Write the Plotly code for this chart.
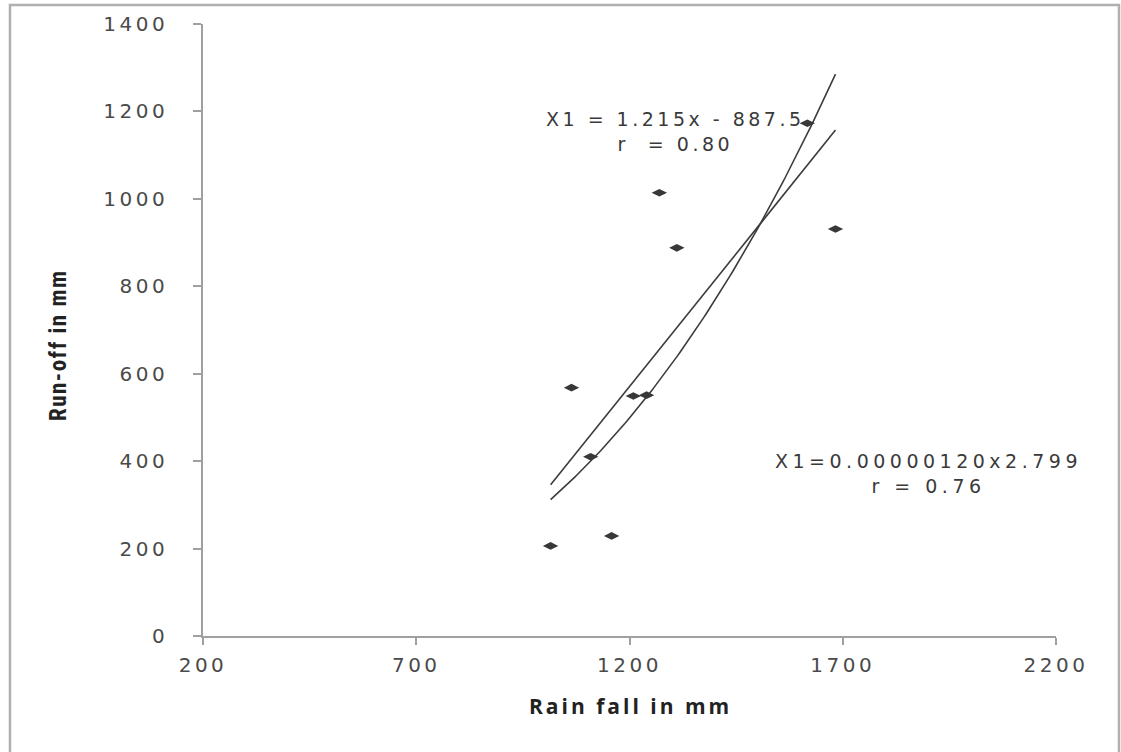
import plotly.graph_objects as go
import numpy as np

# ---- data ----
rain_mm = [1015, 1064, 1109, 1158, 1209, 1240, 1270, 1311, 1617, 1683]
runoff_mm = [206, 568, 410, 229, 549, 551, 1014, 888, 1173, 931]

# trendline coefficients as printed on the chart
lin_slope = 1.215
lin_intercept = -887.5
pow_coef = 0.00000120
pow_exp = 2.799

x_ticks = [200, 700, 1200, 1700, 2200]
y_ticks = [0, 200, 400, 600, 800, 1000, 1200, 1400]

lin_label = "X1 = 1.215x - 887.5<br>r  = 0.80"
pow_label = "X1=0.00000120x2.799<br>r = 0.76"
x_title = "Rain fall in mm"
y_title = "Run-off in mm"


def sp(t, ls):
    return '<span style="letter-spacing:%spx">%s</span>' % (ls, t)


W, H = 1121, 752
L, R, T, B = 203, 65, 24, 116
pw, ph = W - L - R, H - T - B


def px(xp):
    return (xp - L) / pw


def py(yp):
    return (H - B - yp) / ph


x_min, x_max = min(rain_mm), max(rain_mm)
xs_fit = np.linspace(x_min, x_max, 120)
lin_y = lin_slope * xs_fit + lin_intercept
pow_y = pow_coef * xs_fit ** pow_exp

line_col = "#3c3c3c"
fig = go.Figure()
fig.add_trace(go.Scatter(x=xs_fit, y=lin_y, mode="lines",
                         line=dict(color=line_col, width=1.6), hoverinfo="skip"))
fig.add_trace(go.Scatter(x=xs_fit, y=pow_y, mode="lines",
                         line=dict(color=line_col, width=1.6), hoverinfo="skip"))
fig.add_trace(go.Scatter(x=rain_mm, y=runoff_mm, mode="markers",
                         marker=dict(symbol="diamond-wide", size=11, color="#383838",
                                     line=dict(width=0))))

tick_font = dict(family="DejaVu Sans", size=20, color="#4a4a4a")
axis_common = dict(showline=True, linecolor="#a0a0a0", linewidth=1.5,
                   ticks="outside", tickcolor="#a0a0a0", tickwidth=1.5,
                   showgrid=False, zeroline=False, tickfont=tick_font, mirror=False)

fig.update_xaxes(range=[200, 2200], tickmode="array", tickvals=x_ticks,
                 ticktext=[sp(str(v), 3.5) for v in x_ticks], ticklen=7,
                 ticklabelstandoff=3, **axis_common)
fig.update_yaxes(range=[0, 1400], tickmode="array", tickvals=y_ticks,
                 ticktext=[sp(str(v), 3.5) for v in y_ticks], ticklen=8,
                 ticklabelstandoff=21, **axis_common)

ann_font = dict(family="DejaVu Sans", size=19, color="#3a3a3a")
fig.add_annotation(x=1309, y=1153, xref="x", yref="y", text=sp(lin_label, 3.5),
                   showarrow=False, align="center", font=ann_font,
                   xanchor="center", yanchor="middle")
fig.add_annotation(x=1900, y=371, xref="x", yref="y", text=sp(pow_label, 4.5),
                   showarrow=False, align="center", font=ann_font,
                   xanchor="center", yanchor="middle")

fig.add_annotation(x=px(630), y=py(706), xref="paper", yref="paper",
                   text="<b>" + sp(x_title, 3) + "</b>", showarrow=False,
                   xanchor="center", yanchor="middle",
                   font=dict(family="Open Sans", size=21, color="#222222"))
fig.add_annotation(x=px(58), y=py(345), xref="paper", yref="paper",
                   text="<b>" + sp(y_title, 1.5) + "</b>", showarrow=False, textangle=-90,
                   xanchor="center", yanchor="middle",
                   font=dict(family="Liberation Sans Narrow, Roboto Condensed, Liberation Sans",
                             size=23, color="#222222"))

fig.add_shape(type="rect", xref="paper", yref="paper",
              x0=px(10), x1=px(1119), y0=py(790), y1=py(5),
              line=dict(color="#b0b0b0", width=2.5), fillcolor="rgba(0,0,0,0)", layer="below")

fig.update_layout(width=W, height=H, margin=dict(l=L, r=R, t=T, b=B),
                  paper_bgcolor="white", plot_bgcolor="white", showlegend=False)

fig.write_html("out.html")
